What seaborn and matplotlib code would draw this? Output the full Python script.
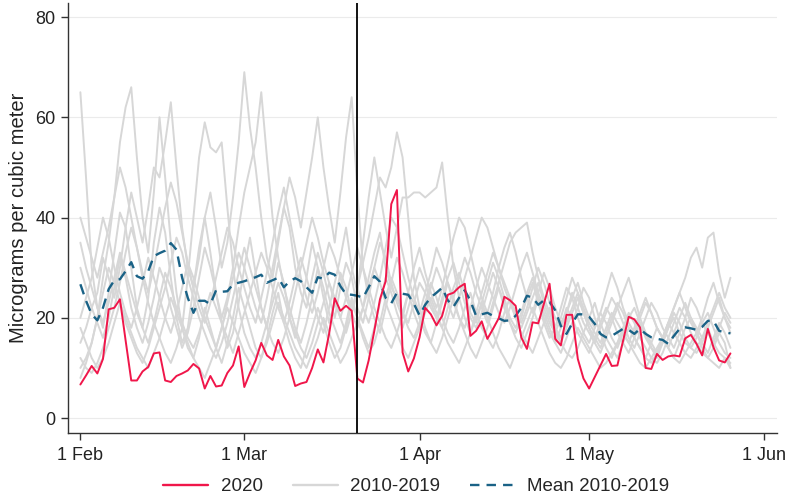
import numpy as np
import pandas as pd
import matplotlib
matplotlib.use("Agg")
import matplotlib.pyplot as plt
import matplotlib.dates as mdates
from matplotlib.lines import Line2D
import seaborn as sns

start_date = "2020-02-01"
lockdown_date = "2020-03-21"

pm_2020 = [6.7, 8.5, 10.4, 8.9, 11.8, 21.7, 22.0, 23.7, 15.5, 7.5,
           7.5, 9.3, 10.2, 12.9, 13.1, 7.5, 7.2, 8.4, 8.9, 9.5,
           10.8, 9.9, 5.9, 8.4, 6.3, 6.5, 9.0, 10.5, 14.3, 6.2,
           9.0, 11.5, 15.0, 12.5, 11.6, 15.6, 12.3, 10.5, 6.4, 6.9,
           7.2, 10.0, 13.7, 11.1, 16.8, 23.9, 21.4, 22.4, 21.4, 7.9,
           7.1, 11.5, 17.4, 23.7, 27.3, 42.7, 45.5, 13.1, 9.3, 11.9,
           16.1, 22.0, 20.7, 18.5, 20.4, 24.6, 25.0, 26.1, 26.8, 16.4,
           17.4, 19.3, 15.8, 17.8, 19.9, 24.2, 23.5, 22.4, 16.1, 13.8,
           19.1, 18.9, 22.8, 26.8, 15.8, 14.5, 20.6, 20.6, 11.8, 7.9,
           5.9, 8.2, 10.5, 12.8, 10.4, 10.5, 15.4, 20.2, 19.7, 18.1,
           10.0, 9.8, 12.8, 11.6, 12.3, 12.5, 12.3, 15.9, 16.6, 14.8,
           12.5, 17.8, 14.1, 11.5, 11.1, 12.9]

pm_mean = [26.7, 23.4, 20.7, 19.5, 22.0, 25.7, 27.5, 27.7, 29.3, 31.1,
           28.3, 27.8, 29.3, 32.3, 32.9, 33.4, 34.9, 33.6, 28.0, 24.0,
           21.0, 23.4, 23.4, 22.7, 25.5, 25.2, 25.3, 26.7, 27.0, 27.3,
           27.7, 28.1, 28.6, 27.0, 27.5, 28.0, 26.1, 27.3, 27.9, 27.3,
           26.1, 25.0, 28.1, 27.8, 29.0, 28.6, 26.3, 24.7, 24.6, 24.4,
           24.0, 26.1, 28.3, 27.2, 24.0, 22.9, 25.0, 24.8, 24.6, 22.8,
           20.5, 22.6, 24.1, 25.0, 26.0, 23.5, 22.2, 24.0, 25.5, 23.4,
           20.4, 20.7, 21.0, 20.4, 19.9, 19.4, 19.5, 20.4, 22.0, 24.4,
           24.0, 22.6, 23.5, 23.2, 21.5, 18.4, 16.8, 18.9, 20.7, 20.7,
           20.2, 18.8, 16.8, 16.1, 16.4, 17.1, 17.8, 17.6, 16.8, 17.8,
           16.8, 16.1, 15.8, 15.6, 14.8, 16.4, 17.8, 18.1, 17.9, 17.6,
           18.2, 19.4, 19.4, 17.4, 17.1, 16.9]

pm_2010 = [65, 48, 30, 22, 18, 25, 33, 41, 38, 30, 22, 18, 24, 35, 42, 37, 28, 20, 15, 18,
           26, 34, 40, 33, 25, 19, 14, 17, 23, 30, 36, 29, 22, 18, 25, 31, 27, 20, 16, 22,
           28, 35, 30, 24, 19, 23, 29, 26, 21, 18, 22, 28, 33, 37, 30, 26, 24, 21, 19, 23,
           27, 25, 22, 20, 24, 28, 31, 27, 23, 20, 18, 21, 25, 29, 26, 22, 19, 17, 20, 24,
           27, 23, 19, 16, 18, 22, 26, 24, 20, 17, 15, 18, 21, 19, 16, 14, 17, 20, 22, 19,
           16, 14, 13, 15, 18, 20, 17, 15, 14, 16, 19, 21, 18, 15, 13, 12]
pm_2011 = [10, 12, 15, 20, 28, 35, 44, 55, 62, 66, 52, 40, 33, 45, 60, 48, 35, 25, 18, 14,
           12, 16, 22, 18, 14, 11, 15, 20, 26, 22, 18, 14, 12, 16, 21, 25, 19, 15, 12, 10,
           14, 18, 22, 19, 15, 12, 14, 18, 23, 20, 16, 13, 15, 19, 24, 28, 25, 21, 18, 16,
           19, 23, 27, 24, 20, 17, 15, 18, 22, 25, 21, 18, 16, 14, 17, 21, 24, 20, 17, 15,
           13, 16, 19, 22, 18, 15, 13, 12, 14, 17, 20, 23, 19, 16, 14, 12, 15, 18, 16, 14,
           12, 11, 13, 16, 19, 17, 15, 13, 12, 14, 16, 18, 15, 13, 12, 11]
pm_2012 = [30, 26, 22, 25, 32, 28, 24, 30, 38, 45, 40, 35, 42, 50, 48, 55, 63, 50, 38, 30,
           26, 32, 40, 45, 38, 30, 35, 44, 55, 69, 58, 50, 40, 32, 28, 35, 42, 38, 30, 25,
           22, 28, 33, 29, 24, 20, 26, 31, 28, 22, 19, 24, 30, 35, 32, 27, 23, 20, 25, 30,
           34, 29, 25, 22, 26, 31, 36, 40, 38, 33, 28, 24, 21, 25, 30, 34, 37, 33, 28, 24,
           21, 25, 29, 26, 22, 19, 21, 24, 27, 23, 20, 18, 21, 25, 29, 26, 22, 19, 17, 20,
           23, 21, 18, 16, 19, 22, 25, 22, 19, 17, 20, 24, 27, 23, 20, 18]
pm_2013 = [15, 18, 22, 19, 16, 20, 26, 32, 28, 22, 18, 15, 19, 24, 30, 27, 22, 18, 14, 17,
           22, 28, 34, 30, 25, 20, 24, 30, 38, 45, 50, 55, 65, 52, 40, 32, 26, 22, 18, 15,
           19, 24, 30, 26, 21, 18, 15, 19, 24, 20, 17, 14, 18, 23, 28, 25, 21, 18, 22, 26,
           30, 27, 23, 20, 18, 22, 26, 29, 25, 21, 19, 23, 27, 31, 28, 24, 20, 18, 21, 25,
           28, 24, 20, 17, 15, 18, 22, 20, 17, 15, 13, 16, 19, 22, 20, 17, 15, 13, 16, 19,
           17, 14, 12, 15, 18, 21, 19, 16, 14, 13, 15, 18, 21, 24, 20, 17]
pm_2014 = [20, 24, 28, 34, 40, 36, 30, 25, 21, 18, 22, 27, 32, 28, 24, 20, 17, 21, 26, 31,
           28, 24, 20, 17, 14, 18, 23, 28, 33, 30, 26, 22, 19, 24, 30, 36, 42, 48, 44, 38,
           45, 52, 60, 50, 42, 35, 45, 56, 64, 45, 30, 24, 20, 17, 22, 27, 32, 29, 25, 21,
           18, 22, 26, 30, 27, 23, 20, 24, 28, 32, 36, 40, 38, 34, 30, 27, 24, 21, 19, 22,
           26, 30, 27, 23, 20, 18, 21, 25, 22, 19, 17, 15, 18, 21, 24, 22, 19, 16, 14, 17,
           20, 23, 21, 18, 16, 14, 17, 20, 24, 22, 19, 17, 15, 18, 21, 19]
pm_2015 = [12, 10, 9, 11, 14, 18, 22, 27, 33, 38, 34, 28, 23, 19, 16, 13, 11, 14, 18, 28,
           40, 52, 59, 54, 53, 55, 42, 30, 22, 17, 14, 12, 15, 19, 23, 27, 24, 20, 17, 14,
           12, 15, 19, 23, 27, 24, 20, 17, 21, 26, 31, 36, 42, 48, 46, 50, 57, 52, 40, 28,
           22, 18, 15, 19, 23, 27, 24, 20, 17, 14, 12, 15, 18, 22, 26, 23, 19, 16, 14, 17,
           20, 24, 21, 18, 15, 13, 16, 19, 22, 26, 24, 20, 17, 14, 12, 15, 18, 21, 19, 16,
           14, 12, 11, 13, 16, 19, 22, 20, 17, 15, 13, 12, 14, 17, 15, 10]
pm_2016 = [35, 30, 26, 22, 19, 23, 28, 33, 29, 25, 21, 18, 15, 19, 24, 29, 26, 22, 19, 16,
           14, 17, 21, 25, 22, 19, 16, 13, 17, 21, 25, 29, 33, 30, 26, 22, 19, 23, 28, 32,
           28, 24, 20, 17, 22, 27, 32, 38, 30, 25, 35, 44, 52, 45, 38, 32, 38, 44, 44, 45,
           45, 44, 45, 46, 51, 40, 30, 24, 20, 17, 21, 25, 29, 33, 30, 26, 23, 20, 18, 21,
           24, 27, 23, 20, 17, 15, 18, 21, 24, 21, 18, 16, 14, 17, 20, 23, 21, 18, 16, 14,
           12, 15, 18, 16, 14, 12, 15, 18, 20, 17, 15, 13, 16, 19, 17, 14]
pm_2017 = [8, 11, 15, 20, 25, 30, 27, 23, 19, 16, 13, 11, 14, 18, 22, 26, 31, 36, 33, 28,
           24, 20, 17, 14, 12, 15, 19, 24, 29, 34, 30, 26, 22, 18, 15, 13, 16, 20, 25, 30,
           35, 40, 36, 31, 27, 23, 20, 24, 29, 34, 30, 26, 22, 19, 16, 14, 17, 21, 25, 23,
           20, 17, 15, 13, 16, 20, 24, 28, 32, 29, 25, 22, 19, 23, 27, 31, 35, 37, 38, 39,
           33, 28, 24, 21, 18, 16, 19, 22, 25, 21, 18, 15, 13, 16, 19, 22, 25, 28, 24, 20,
           17, 15, 13, 16, 19, 22, 25, 28, 32, 34, 30, 36, 37, 29, 24, 28]
pm_2018 = [18, 15, 12, 10, 12, 15, 19, 23, 20, 17, 14, 12, 10, 13, 16, 20, 24, 21, 18, 15,
           12, 10, 8, 11, 14, 18, 22, 19, 16, 13, 11, 9, 12, 15, 19, 23, 20, 17, 14, 12,
           10, 13, 16, 20, 17, 14, 11, 13, 16, 19, 22, 26, 30, 27, 23, 20, 17, 14, 12, 15,
           18, 21, 24, 21, 18, 15, 13, 11, 14, 17, 20, 23, 20, 17, 14, 12, 10, 13, 16, 19,
           22, 19, 16, 13, 11, 10, 12, 15, 18, 16, 14, 12, 10, 11, 13, 15, 17, 15, 13, 11,
           10, 12, 14, 16, 14, 12, 11, 13, 15, 17, 14, 12, 11, 10, 12, 10]
pm_2019 = [40, 36, 32, 28, 33, 38, 44, 50, 46, 40, 34, 29, 25, 30, 36, 42, 47, 43, 37, 31,
           26, 22, 19, 23, 28, 33, 38, 35, 30, 26, 22, 19, 24, 29, 35, 41, 46, 40, 34, 28,
           24, 21, 25, 30, 35, 32, 28, 24, 21, 26, 22, 19, 23, 28, 34, 40, 38, 33, 28, 24,
           21, 25, 29, 34, 31, 27, 23, 20, 18, 22, 26, 30, 27, 24, 21, 19, 22, 26, 30, 33,
           29, 25, 22, 19, 17, 20, 24, 28, 25, 22, 19, 17, 15, 18, 21, 19, 17, 15, 18, 21,
           24, 21, 18, 16, 14, 17, 20, 23, 20, 18, 16, 19, 22, 25, 22, 20]

years = ["2010", "2011", "2012", "2013", "2014", "2015", "2016", "2017", "2018", "2019"]
past = [pm_2010, pm_2011, pm_2012, pm_2013, pm_2014, pm_2015, pm_2016, pm_2017, pm_2018, pm_2019]

n = len(pm_2020)
dates = pd.date_range(start_date, periods=n, freq="D")
for s in past + [pm_mean]:
    assert len(s) == n, len(s)

grey_df = pd.concat([pd.DataFrame({"date": dates, "pm": s, "year": y}) for y, s in zip(years, past)],
                    ignore_index=True)
df2020 = pd.DataFrame({"date": dates, "pm": pm_2020})
dfmean = pd.DataFrame({"date": dates, "pm": pm_mean})

sns.set_theme(style="white")
plt.rcParams["font.family"] = ["Liberation Sans", "DejaVu Sans"]

RED = "#f0164a"
GREY = "#d7d7d7"
TEAL = "#1a6286"

fig = plt.figure(figsize=(7.9, 4.99), dpi=100)
ax = fig.add_axes([0.086, 0.132, 0.898, 0.862])

sns.lineplot(data=grey_df, x="date", y="pm", units="year", estimator=None,
             color=GREY, lw=1.4, ax=ax, legend=False)
sns.lineplot(data=dfmean, x="date", y="pm", color=TEAL, lw=1.7, ax=ax,
             linestyle=(0, (4.5, 3)), legend=False)
sns.lineplot(data=df2020, x="date", y="pm", color=RED, lw=1.4, ax=ax, legend=False)

ax.axvline(pd.Timestamp(lockdown_date), color="black", lw=1.3, zorder=5)

x0 = pd.Timestamp(start_date)
ax.set_xlim(x0 - pd.Timedelta(days=2.2), x0 + pd.Timedelta(days=123.3))
ax.set_ylim(-3, 82.8)
ax.set_yticks([0, 20, 40, 60, 80])
xt = pd.to_datetime(["2020-02-01", "2020-03-01", "2020-04-01", "2020-05-01", "2020-06-01"])
ax.set_xticks(xt)
ax.set_xticklabels(["1 Feb", "1 Mar", "1 Apr", "1 May", "1 Jun"])

ax.grid(axis="y", color="#ebebeb", lw=0.8)
ax.set_axisbelow(True)
for side in ["top", "right"]:
    ax.spines[side].set_visible(False)
for side in ["left", "bottom"]:
    ax.spines[side].set_color("#333333")
    ax.spines[side].set_linewidth(1.0)
ax.tick_params(axis="both", which="major", direction="out", length=5, width=1.0,
               color="#333333", labelsize=13, colors="#222222", left=True, bottom=True)
ax.tick_params(axis="x", pad=5)
ax.tick_params(axis="y", pad=4)
ax.set_xlabel("")
ax.set_ylabel("Micrograms per cubic meter", fontsize=14.5, color="#222222", labelpad=5)

handles = [Line2D([], [], color=RED, lw=1.7),
           Line2D([], [], color=GREY, lw=1.7),
           Line2D([], [], color=TEAL, lw=1.7, linestyle=(0, (4, 3)))]
fig.legend(handles, ["2020", "2010-2019", "Mean 2010-2019"], loc="center",
           bbox_to_anchor=(0.527, 0.025), ncol=3, frameon=False, fontsize=13.5,
           handlelength=2.4, columnspacing=1.6, handletextpad=0.65)

fig.savefig("out.png", dpi=100)
